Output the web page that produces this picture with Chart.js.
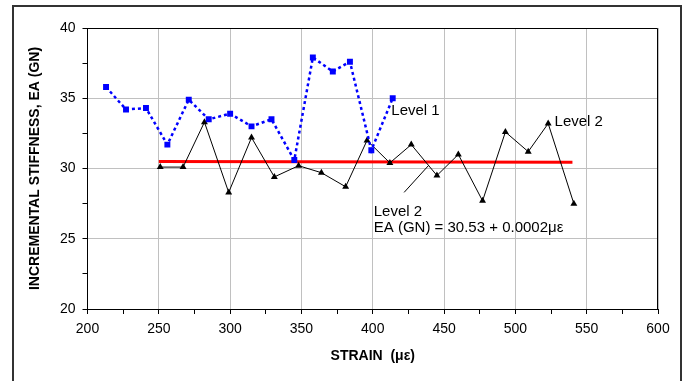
<!DOCTYPE html>
<html>
<head>
<meta charset="utf-8">
<script src="https://cdn.jsdelivr.net/npm/chart.js@4/dist/chart.umd.min.js"></script>
<style>
  body { margin: 0; background: #fff; }
</style>
</head>
<body>
<canvas id="stiffnessChart" width="685" height="381"></canvas>
<script>
// Level 1 (blue squares)
const level1Strain = [213, 227, 241, 256, 271, 285, 300, 315, 329, 345, 358, 372, 384, 399, 414];
const level1EA = [35.8, 34.2, 34.3, 31.7, 34.9, 33.5, 33.9, 33.0, 33.5, 30.6, 37.9, 36.9, 37.6, 31.3, 35.0];

// Level 2 (black triangles)
const level2Strain = [251, 267, 282, 299, 315, 331, 348, 364, 381, 396, 412, 427, 445, 460, 477, 493, 509, 523, 541];
const level2EA = [30.1, 30.1, 33.3, 28.3, 32.2, 29.4, 30.2, 29.7, 28.7, 32.0, 30.4, 31.7, 29.5, 31.0, 27.7, 32.6, 31.2, 33.2, 27.5];

// fit line for level 2
const fitStrain = [250, 540];
const fitEA = [30.5, 30.45];

// leader line from the equation to the level 2 data
const leaderStrain = [422, 439];
const leaderEA = [28.3, 30.2];

const labelText = ['Level 1', 'Level 2', 'Level 2', 'EA (GN) = 30.53 + 0.0002\u03bc\u03b5'];
const labelStrain = [413, 527.5, 400.7, 400.7];
const labelEA = [34.1, 33.3, 26.9, 25.8];

const toPoints = (xs, ys) => xs.map((x, i) => ({ x: x, y: ys[i] }));

const fontFamily = "'Liberation Sans', Arial, sans-serif";

const framePlugin = {
    id: 'frame',
    beforeDraw(chart) {
        const c = chart.ctx;
        c.save();
        c.strokeStyle = '#333';
        c.lineWidth = 2;
        c.beginPath();
        c.moveTo(13, 400);
        c.lineTo(13, 6);
        c.lineTo(681, 6);
        c.lineTo(681, 400);
        c.stroke();
        c.restore();
    },
    afterDraw(chart) {
        const a = chart.chartArea;
        const c = chart.ctx;
        c.save();
        c.strokeStyle = '#000';
        c.lineWidth = 1;
        c.beginPath();
        c.moveTo(a.left, a.top + 0.5);
        c.lineTo(a.right - 0.5, a.top + 0.5);
        c.lineTo(a.right - 0.5, a.bottom);
        c.stroke();
        c.restore();
    }
};

const labelPlugin = {
    id: 'textLabels',
    afterDatasetsDraw(chart) {
        const c = chart.ctx;
        const xs = chart.scales.x, ys = chart.scales.y;
        c.save();
        c.fillStyle = '#000';
        c.font = '15px ' + fontFamily;
        c.textAlign = 'left';
        c.textBaseline = 'middle';
        labelText.forEach((t, i) => {
            c.fillText(t, xs.getPixelForValue(labelStrain[i]), ys.getPixelForValue(labelEA[i]));
        });
        c.restore();
    }
};

const ctx = document.getElementById('stiffnessChart').getContext('2d');
const stiffnessChart = new Chart(ctx, {
    type: 'line',
    data: {
        datasets: [
            {
                label: 'Level 1',
                data: toPoints(level1Strain, level1EA),
                borderColor: '#0000ff',
                backgroundColor: '#0000ff',
                borderWidth: 2.5,
                borderDash: [3, 3],
                pointStyle: 'rect',
                pointRadius: 4.2,
                pointBorderWidth: 0
            },
            {
                label: 'Level 2',
                data: toPoints(level2Strain, level2EA),
                borderColor: '#000',
                backgroundColor: '#000',
                borderWidth: 1,
                pointStyle: 'triangle',
                pointRadius: 4,
                pointBorderWidth: 0
            },
            {
                label: 'Fit',
                data: toPoints(fitStrain, fitEA),
                borderColor: '#ff0000',
                borderWidth: 3,
                pointRadius: 0
            },
            {
                label: 'Leader',
                data: toPoints(leaderStrain, leaderEA),
                borderColor: '#000',
                borderWidth: 1,
                pointRadius: 0
            }
        ]
    },
    options: {
        responsive: false,
        animation: false,
        layout: {
            padding: { left: 23, top: 28, right: 27, bottom: 12 }
        },
        scales: {
            x: {
                type: 'linear',
                min: 200,
                max: 600,
                afterFit: (scale) => { scale.height = 60; },
                ticks: {
                    stepSize: 25,
                    autoSkip: false,
                    maxRotation: 0,
                    padding: 7,
                    color: '#000',
                    font: { family: fontFamily, size: 14 },
                    callback: (v) => (v % 50 === 0 ? v : '')
                },
                grid: {
                    color: (c) => (c.tick && c.tick.value % 50 === 0 ? '#c0c0c0' : 'rgba(0,0,0,0)'),
                    tickColor: '#000',
                    tickLength: 5
                },
                border: { color: '#000', width: 1 },
                title: {
                    display: true,
                    text: 'STRAIN  (\u03bc\u03b5)',
                    color: '#000',
                    font: { family: fontFamily, size: 14, weight: 'bold' }
                }
            },
            y: {
                min: 20,
                max: 40,
                afterFit: (scale) => { scale.width = 64.5; },
                ticks: {
                    stepSize: 2.5,
                    autoSkip: false,
                    padding: 7,
                    color: '#000',
                    font: { family: fontFamily, size: 14 },
                    callback: (v) => (v % 5 === 0 ? v : '')
                },
                grid: {
                    color: (c) => (c.tick && c.tick.value % 5 === 0 ? '#c0c0c0' : 'rgba(0,0,0,0)'),
                    tickColor: '#000',
                    tickLength: 5
                },
                border: { color: '#000', width: 1 },
                title: {
                    display: true,
                    text: 'INCREMENTAL STIFFNESS, EA (GN)',
                    color: '#000',
                    font: { family: fontFamily, size: 14, weight: 'bold' }
                }
            }
        },
        plugins: {
            legend: { display: false },
            tooltip: { enabled: false }
        }
    },
    plugins: [framePlugin, labelPlugin]
});
</script>
</body>
</html>
